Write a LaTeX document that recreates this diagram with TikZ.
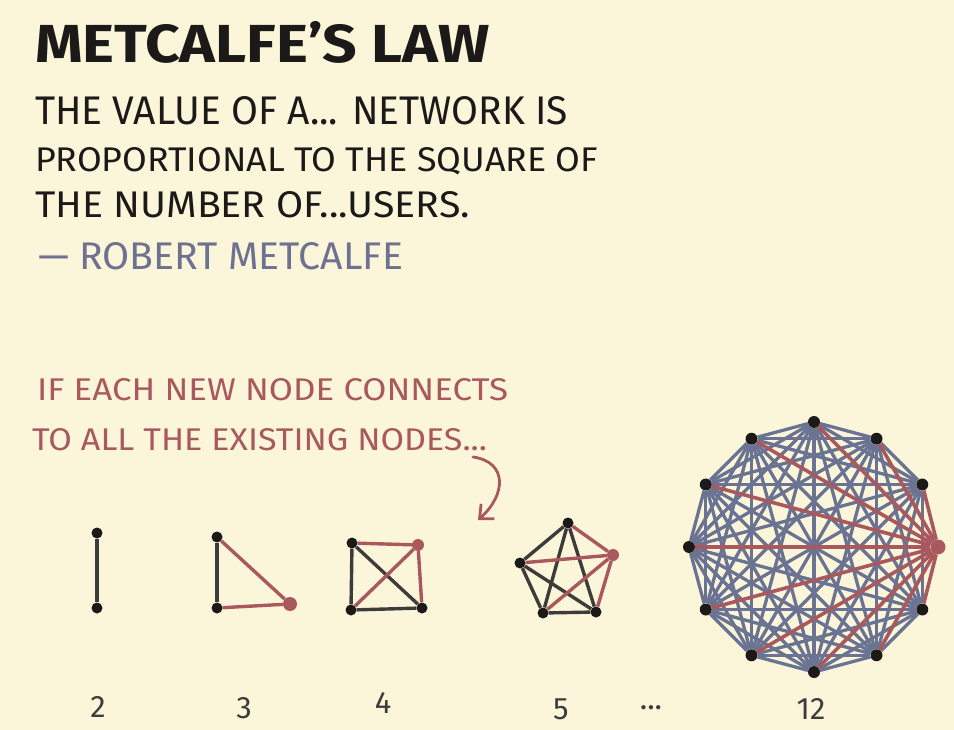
\documentclass[tikz,border=0pt]{standalone}
\usepackage{fontspec}
\setmainfont{Fira Sans}
\usetikzlibrary{arrows.meta,calc}
\definecolor{bg}{HTML}{FBF6DA}
\definecolor{ink}{HTML}{1C1A18}
\definecolor{inkred}{HTML}{A9595D}
\definecolor{inkblue}{HTML}{6B7393}
\definecolor{inkgray}{HTML}{6F7190}
\newcommand\fitto[3]{\resizebox{#1pt}{#2pt}{#3}}
\tikzset{
  txt/.style={anchor=base west, inner sep=0pt, outer sep=0pt},
  dot/.style={circle, fill=ink, inner sep=0pt, minimum size=11pt},
  reddot/.style={circle, fill=inkred, inner sep=0pt, minimum size=14pt},
  blackedge/.style={draw=ink!85, line width=3.4pt},
  rededge/.style={draw=inkred, line width=3.4pt},
  bluebig/.style={draw=inkblue, line width=3.3pt},
  redbig/.style={draw=inkred, line width=3.6pt},
  numlabel/.style={inner sep=0pt, text=ink!85, font=\fontsize{31}{31}\selectfont}
}
\begin{document}
\begin{tikzpicture}[x=1pt,y=-1pt]
\useasboundingbox[fill=bg] (0,0) rectangle (954,730);

% ---- texts ----
\node[txt, text=ink] (title) at (35,63) {\fitto{455}{41}{\bfseries METCALFE’S LAW}};
\node[txt, text=ink] (q1) at (35,125) {\fitto{533}{28}{THE VALUE OF A... NETWORK IS}};
\node[txt, text=ink] (q2) at (35,172) {\fitto{563}{24}{PROPORTIONAL TO THE SQUARE OF}};
\node[txt, text=ink] (q3) at (35,218) {\fitto{435}{26}{THE NUMBER OF...USERS.}};
\node[txt, text=inkgray] (auth) at (38,270) {\fitto{365}{27}{— ROBERT METCALFE}};
\node[txt, text=inkred] (r1) at (37,400) {\fitto{471}{22}{IF EACH NEW NODE CONNECTS}};
\node[txt, text=inkred] (r2) at (32,450) {\fitto{455}{22}{TO ALL THE EXISTING NODES...}};

% ---- curved arrow ----
\coordinate (arrS) at (473,457);
\coordinate (arrE) at (478,520);
\draw[inkred, line width=2.8pt, line cap=round, -{Straight Barb[length=11pt,width=20pt,line width=2.8pt]}]
  (arrS) .. controls (508,462) and (506,495) .. (arrE);

% ---- graph 2 ----
\node[dot] (a1) at (97,533) {};
\node[dot] (a2) at (97,608) {};
\draw[blackedge] (a1) -- (a2);

% ---- graph 3 ----
\node[dot] (b1) at (217,537) {};
\node[dot] (b2) at (217,608) {};
\node[reddot] (b3) at (290,604) {};
\draw[blackedge] (b1) -- (b2);
\draw[rededge] (b1) -- (b3);
\draw[rededge] (b2) -- (b3);

% ---- graph 4 ----
\node[dot] (c1) at (352,543) {};
\node[reddot, minimum size=12pt] (c2) at (418,545) {};
\node[dot] (c3) at (422,608) {};
\node[dot] (c4) at (351,610) {};
\draw[blackedge] (c1) -- (c4);
\draw[blackedge] (c4) -- (c3);
\draw[blackedge] (c1) -- (c3);
\draw[rededge] (c1) -- (c2);
\draw[rededge] (c4) -- (c2);
\draw[rededge] (c3) -- (c2);

% ---- graph 5 ----
\node[dot] (d1) at (568,523) {};
\node[reddot, minimum size=12pt] (d2) at (613,555) {};
\node[dot] (d3) at (596,612) {};
\node[dot] (d4) at (543,613) {};
\node[dot] (d5) at (520,563) {};
\draw[blackedge] (d1) -- (d5);
\draw[blackedge] (d1) -- (d4);
\draw[blackedge] (d1) -- (d3);
\draw[blackedge] (d5) -- (d4);
\draw[blackedge] (d5) -- (d3);
\draw[blackedge] (d4) -- (d3);
\draw[rededge] (d2) -- (d1);
\draw[rededge] (d2) -- (d5);
\draw[rededge] (d2) -- (d4);
\draw[rededge] (d2) -- (d3);

% ---- graph 12 ----
\coordinate (ctr) at (814,547);
\node[reddot, minimum size=15pt] (t0) at ($(ctr)+(0:124)$) {};
\foreach \i in {1,...,11} {
  \node[dot, minimum size=12pt] (t\i) at ($(ctr)+(\i*30:125)$) {};
}
\foreach \i in {1,...,10} {
  \pgfmathtruncatemacro\nxt{\i+1}
  \foreach \j in {\nxt,...,11} {
    \draw[bluebig] (t\i) -- (t\j);
  }
}
\foreach \i in {1,...,11} {
  \draw[redbig] (t0) -- (t\i);
}

% ---- counts ----
\node[numlabel] (n2) at (98,707) {2};
\node[numlabel] (n3) at (244,708) {3};
\node[numlabel] (n4) at (383,703) {4};
\node[numlabel] (n5) at (561,709) {5};
\node[numlabel] (ndots) at (651,708) {...};
\node[numlabel] (n12) at (811,709) {12};
\end{tikzpicture}
\end{document}
